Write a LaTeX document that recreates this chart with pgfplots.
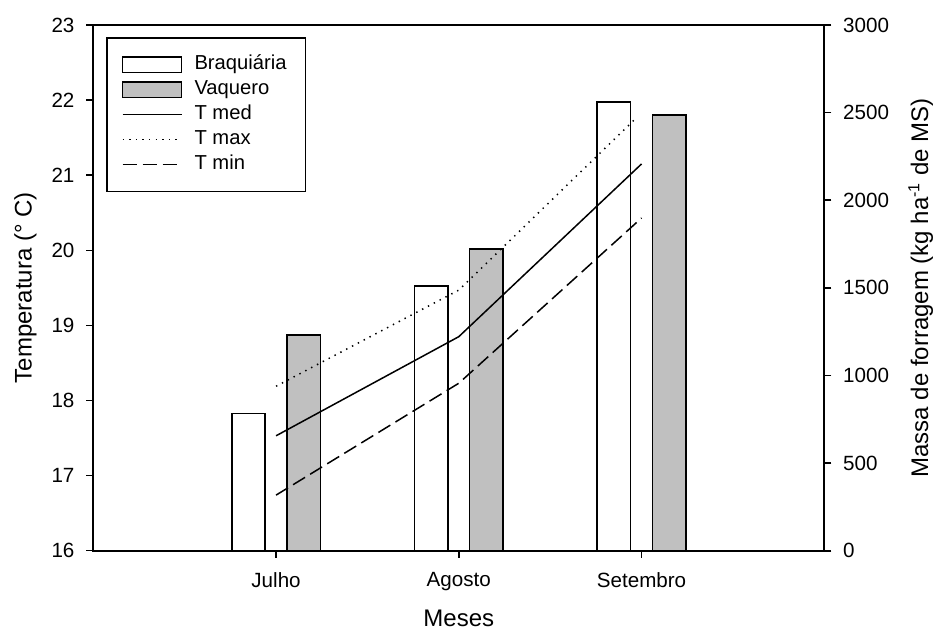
\documentclass[border=0pt]{standalone}
\usepackage{fontspec}
\setmainfont{Liberation Sans}
\usepackage{pgfplots}
\pgfplotsset{compat=1.18}
\definecolor{barGray}{RGB}{192,192,192}
\pgfplotsset{
  myline legend/.style={legend image code/.code={\draw[##1, line width=0.75pt] (0pt,0pt) -- (29.5pt,0pt); \path (33.6pt,0pt);}},
  mybox legend/.style={legend image code/.code={\draw[##1, line width=0.8pt] (0pt,-3.9pt) rectangle (29.5pt,3.9pt); \path (33.6pt,0pt);}},
  common/.style={
    width=365.5pt, height=262.85pt, scale only axis,
    at={(0,0)}, anchor=south west,
    xmin=0, xmax=4,
    axis line style={line width=0.8pt},
    tick style={line width=0.8pt, black},
    major tick length=3.5pt,
    tick align=outside,
    /pgf/number format/assume math mode=true,
    /pgf/number format/1000 sep={},
    ticklabel style={font=\fontsize{10.3}{12}\selectfont},
    label style={font=\fontsize{12}{14}\selectfont},
  }
}
\begin{document}
\begin{tikzpicture}
% Right axis: forage mass (bars)
\begin{axis}[common,
  ymin=0, ymax=3000,
  ytick={0,500,1000,1500,2000,2500,3000},
  ytick pos=right, yticklabel pos=right,
  yticklabel style={xshift=2.4pt},
  xtick={1,2,3}, xticklabels={Julho,Agosto,Setembro},
  xtick pos=bottom,
  xticklabel style={yshift=-4pt},
  xlabel={Meses},
  xlabel style={at={(axis description cs:0.5,-0.128)}, anchor=center},
  ylabel={Massa de forragem (kg ha\textsuperscript{-1} de MS)},
  ylabel style={at={(axis description cs:1.132,0.5)}, anchor=center},
]
\addplot[ybar, bar width=0.183, bar shift=-0.151, fill=white, draw=black, line width=0.8pt]
  coordinates {(1,782) (2,1511) (3,2562)};
\addplot[ybar, bar width=0.183, bar shift=0.151, fill=barGray, draw=black, line width=0.8pt]
  coordinates {(1,1231) (2,1722) (3,2486)};
\end{axis}
% Left axis: temperature (lines)
\begin{axis}[common,
  ymin=16, ymax=23,
  ytick={16,17,...,23},
  ytick pos=left, yticklabel pos=left,
  yticklabel style={xshift=-2.4pt},
  xtick=\empty,
  ylabel={Temperatura (° C)},
  ylabel style={at={(axis description cs:-0.093,0.5)}, anchor=center},
  legend style={at={(axis description cs:0.0174,0.977)}, anchor=north west,
    draw=black, line width=0.75pt, font=\fontsize{10.1}{12}\selectfont,
    inner xsep=7.5pt, inner ysep=7.1pt, row sep=0pt,
    nodes={text height=7.3pt, text depth=2.2pt, inner ysep=1.5pt},
    cells={anchor=west}},
  legend cell align=left,
]
\addlegendimage{mybox legend, fill=white, draw=black}
\addlegendentry{Braquiária}
\addlegendimage{mybox legend, fill=barGray, draw=black}
\addlegendentry{Vaquero}
\addplot[black, line width=0.75pt, myline legend]
  coordinates {(1,17.53) (2,18.85) (3,21.15)};
\addlegendentry{T med}
\addplot[black, line width=0.75pt, dash pattern=on 0.7pt off 2.6pt, myline legend]
  coordinates {(1,18.19) (2,19.47) (2.97,21.76)};
\addlegendentry{T max}
\addplot[black, line width=0.75pt, dash pattern=on 7pt off 3pt, myline legend]
  coordinates {(1,16.74) (2,18.23) (3,20.43)};
\addlegendentry{T min}
\end{axis}
\pgfresetboundingbox
\path[use as bounding box] (-46.65pt,-40.65pt) rectangle (422.35pt,275.35pt);
\end{tikzpicture}
\end{document}
